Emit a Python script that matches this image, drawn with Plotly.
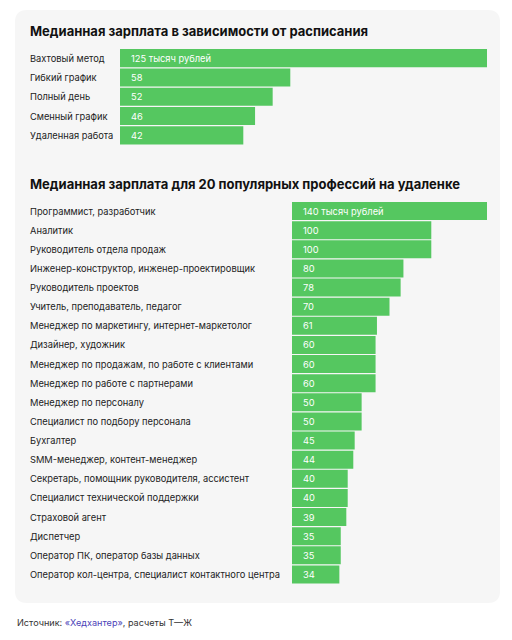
import plotly.graph_objects as go

W, H = 512, 640

sched_labels = ["Вахтовый метод", "Гибкий график", "Полный день", "Сменный график", "Удаленная работа"]
sched_values = [125, 58, 52, 46, 42]
sched_text = ["125 тысяч рублей", "58", "52", "46", "42"]

prof_labels = [
    "Программист, разработчик",
    "Аналитик",
    "Руководитель отдела продаж",
    "Инженер-конструктор, инженер-проектировщик",
    "Руководитель проектов",
    "Учитель, преподаватель, педагог",
    "Менеджер по маркетингу, интернет-маркетолог",
    "Дизайнер, художник",
    "Менеджер по продажам, по работе с клиентами",
    "Менеджер по работе с партнерами",
    "Менеджер по персоналу",
    "Специалист по подбору персонала",
    "Бухгалтер",
    "SMM-менеджер, контент-менеджер",
    "Секретарь, помощник руководителя, ассистент",
    "Специалист технической поддержки",
    "Страховой агент",
    "Диспетчер",
    "Оператор ПК, оператор базы данных",
    "Оператор кол-центра, специалист контактного центра",
]
prof_values = [140, 100, 100, 80, 78, 70, 61, 60, 60, 60, 50, 50, 45, 44, 40, 40, 39, 35, 35, 34]
prof_text = ["140 тысяч рублей"] + [str(v) for v in prof_values[1:]]

GREEN = "#55C760"
FONT = "Inter, Roboto, 'Noto Sans', sans-serif"
LABEL_SIZE = 9.3
TITLE_SIZE = 13

def px(x):
    return x / W

def py(y):
    return 1 - y / H

fig = go.Figure()

fig.add_trace(go.Bar(
    x=sched_values, y=list(range(len(sched_values))), orientation="h",
    marker=dict(color=GREEN, line=dict(width=0)),
    xaxis="x", yaxis="y", hoverinfo="skip",
))
fig.add_trace(go.Bar(
    x=prof_values, y=list(range(len(prof_values))), orientation="h",
    marker=dict(color=GREEN, line=dict(width=0)),
    xaxis="x2", yaxis="y2", hoverinfo="skip",
))

top1, bot1 = 48.5, 145.0
top2, bot2 = 201.5, 584.0

ax_common = dict(showgrid=False, zeroline=False, showticklabels=False, showline=False, fixedrange=True)

fig.update_layout(
    width=W, height=H,
    margin=dict(l=0, r=0, t=0, b=0),
    paper_bgcolor="white", plot_bgcolor="rgba(0,0,0,0)",
    showlegend=False, bargap=0.06,
    xaxis=dict(domain=[px(120), px(487)], range=[0, 125], anchor="y", **ax_common),
    yaxis=dict(domain=[py(bot1), py(top1)], range=[len(sched_values) - 0.5, -0.5], anchor="x", **ax_common),
    xaxis2=dict(domain=[px(292), px(487)], range=[0, 140], anchor="y2", **ax_common),
    yaxis2=dict(domain=[py(bot2), py(top2)], range=[len(prof_values) - 0.5, -0.5], anchor="x2", **ax_common),
    font=dict(family=FONT, color="#222"),
)

# card background with rounded corners
x0, x1, y0, y1, r = px(15), px(500), py(603), py(10), 12
rx, ry = r / W, r / H
path = (f"M {x0+rx},{y1} L {x1-rx},{y1} Q {x1},{y1} {x1},{y1-ry} "
        f"L {x1},{y0+ry} Q {x1},{y0} {x1-rx},{y0} L {x0+rx},{y0} "
        f"Q {x0},{y0} {x0},{y0+ry} L {x0},{y1-ry} Q {x0},{y1} {x0+rx},{y1} Z")
fig.add_shape(type="path", path=path, xref="paper", yref="paper",
              fillcolor="#F6F6F6", line=dict(width=0), layer="below")

anns = []
anns.append(dict(text="<b>Медианная зарплата в зависимости от расписания</b>",
                 x=px(28), y=py(31), xref="paper", yref="paper", xanchor="left", yanchor="middle",
                 showarrow=False, font=dict(size=TITLE_SIZE, color="#111", family=FONT)))
anns.append(dict(text="<b>Медианная зарплата для 20 популярных профессий на удаленке</b>",
                 x=px(28), y=py(184), xref="paper", yref="paper", xanchor="left", yanchor="middle",
                 showarrow=False, font=dict(size=TITLE_SIZE, color="#111", family=FONT)))
for i, lab in enumerate(sched_labels):
    anns.append(dict(text=lab, x=px(28), y=i, xref="paper", yref="y", xanchor="left", yanchor="middle",
                     showarrow=False, font=dict(size=LABEL_SIZE, color="#222", family=FONT)))
    anns.append(dict(text=sched_text[i], x=0, y=i, xref="x", yref="y", xanchor="left", yanchor="middle",
                     xshift=9, showarrow=False, font=dict(size=LABEL_SIZE, color="white", family=FONT)))
for i, lab in enumerate(prof_labels):
    anns.append(dict(text=lab, x=px(28), y=i, xref="paper", yref="y2", xanchor="left", yanchor="middle",
                     showarrow=False, font=dict(size=LABEL_SIZE, color="#222", family=FONT)))
    anns.append(dict(text=prof_text[i], x=0, y=i, xref="x2", yref="y2", xanchor="left", yanchor="middle",
                     xshift=9, showarrow=False, font=dict(size=LABEL_SIZE, color="white", family=FONT)))
anns.append(dict(text="Источник: <span style='color:#4B3FB8'>«Хедхантер»</span>, расчеты Т—Ж",
                 x=px(15), y=py(622), xref="paper", yref="paper", xanchor="left", yanchor="middle",
                 showarrow=False, font=dict(size=9.1, color="#333", family=FONT)))
fig.update_layout(annotations=anns)

fig.write_html("out.html", config={"displayModeBar": False},
               post_script="document.body.style.margin='0px';document.body.style.padding='0px';")
